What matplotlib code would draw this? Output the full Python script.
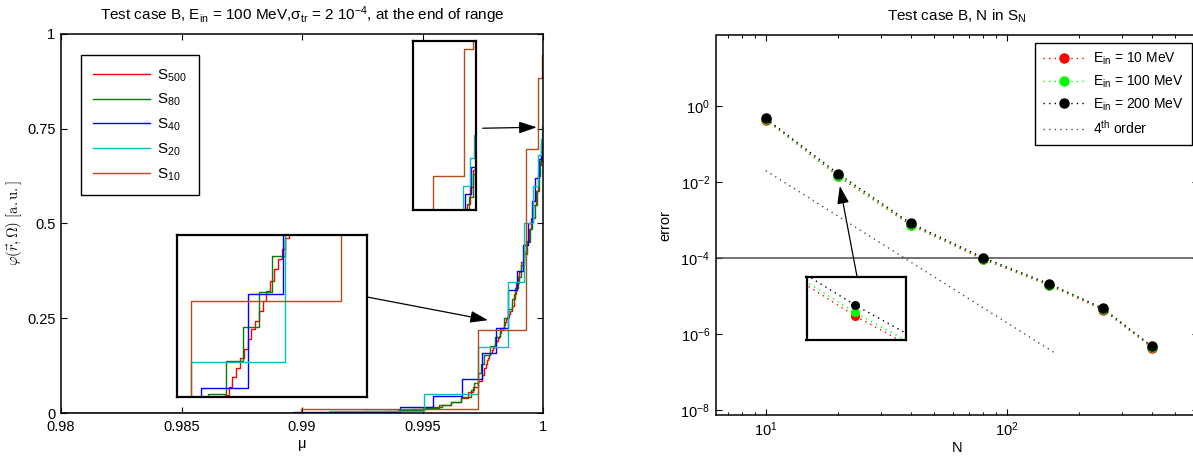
import matplotlib
matplotlib.use('Agg')
import matplotlib.pyplot as plt
from matplotlib.ticker import LogLocator, NullLocator, NullFormatter

plt.rcParams['font.family'] = ['Liberation Sans', 'DejaVu Sans']
plt.rcParams['font.size'] = 10
plt.rcParams['mathtext.fontset'] = 'custom'
plt.rcParams['mathtext.rm'] = 'Liberation Sans'
plt.rcParams['mathtext.it'] = 'Liberation Sans:italic'
plt.rcParams['mathtext.bf'] = 'Liberation Sans:bold'
plt.rcParams['mathtext.sf'] = 'Liberation Sans'

# ---- left panel: angular flux at the end of range (stairs, mu -> phi)
mu_500 = [0.9800, 0.9895, 0.9920, 0.9935, 0.9945, 0.9952, 0.9958, 0.9962,
          0.9966, 0.9969, 0.9971, 0.9973, 0.99745, 0.99755, 0.99762,
          0.99767, 0.99772, 0.99777, 0.99782, 0.99787, 0.99792, 0.99797,
          0.99802, 0.99807, 0.99812, 0.99817, 0.99822, 0.99827, 0.99832,
          0.99837, 0.99842, 0.99847, 0.99852, 0.99857, 0.99862, 0.9987,
          0.9988, 0.9989, 0.9990, 0.9991, 0.9992, 0.9993, 0.9994, 0.9995,
          0.9996, 0.9997, 0.9998, 0.99985, 0.9999, 0.99995, 1.0]
phi_500 = [0.000, 0.001, 0.003, 0.006, 0.010, 0.015, 0.022, 0.030,
           0.040, 0.055, 0.068, 0.085, 0.100, 0.118, 0.130,
           0.140, 0.146, 0.152, 0.158, 0.165, 0.171, 0.178,
           0.184, 0.191, 0.198, 0.204, 0.211, 0.218, 0.225,
           0.232, 0.240, 0.247, 0.254, 0.262, 0.270, 0.283,
           0.315, 0.343, 0.371, 0.398, 0.425, 0.455, 0.485, 0.515,
           0.550, 0.585, 0.630, 0.655, 0.680, 0.705, 0.730]

mu_80 = [0.9800, 0.9900, 0.9925, 0.9940, 0.9950, 0.9957, 0.9962, 0.9966,
         0.9970, 0.99715, 0.9973, 0.99742, 0.99755, 0.99779, 0.99801,
         0.99822, 0.9984, 0.99856, 0.9987, 0.99885, 0.99898, 0.9991,
         0.99922, 0.99934, 0.99945, 0.99955, 0.99965, 0.99974, 0.99982,
         0.99989, 0.99995, 1.0]
phi_80 = [0.000, 0.001, 0.004, 0.008, 0.014, 0.021, 0.030, 0.042,
          0.060, 0.080, 0.105, 0.130, 0.153, 0.176, 0.200,
          0.2245, 0.2496, 0.275, 0.300, 0.330, 0.360, 0.390,
          0.420, 0.452, 0.485, 0.515, 0.550, 0.585, 0.625,
          0.665, 0.700, 0.720]

mu_40 = [0.9800, 0.98967, 0.99407, 0.99545, 0.99663, 0.99745, 0.99807,
         0.99854, 0.99891, 0.99918, 0.99939, 0.99953, 0.99968, 0.99982,
         0.99992, 1.0]
phi_40 = [0.000, 0.003, 0.017, 0.045, 0.091, 0.157, 0.223,
          0.324, 0.374, 0.442, 0.500, 0.560, 0.620, 0.670,
          0.710, 0.745]

mu_20 = [0.9800, 0.99112, 0.99506, 0.99732, 0.99856, 0.99921, 0.99960,
         0.99979, 0.99990, 0.99997, 1.0]
phi_20 = [0.000, 0.006, 0.049, 0.175, 0.346, 0.500, 0.600,
          0.681, 0.723, 0.758, 0.758]

mu_10 = [0.9800, 0.98996, 0.99732, 0.99931, 0.99981, 0.99995, 1.0]
phi_10 = [0.000, 0.010, 0.218, 0.697, 0.885, 0.945, 0.945]

left_labels = ['S$_{500}$', 'S$_{80}$', 'S$_{40}$', 'S$_{20}$', 'S$_{10}$']
left_colors = ['#ff0000', '#007f00', '#0000ff', '#00bfbf', '#b34d1a']

# ---- right panel: error vs N in S_N
n_vals = [10, 20, 40, 80, 150, 250, 400]
err_10 = [0.44, 1.41e-2, 7.3e-4, 9.2e-5, 1.9e-5, 4.4e-6, 4.4e-7]
err_100 = [0.45, 1.48e-2, 7.6e-4, 9.6e-5, 2.0e-5, 4.6e-6, 4.6e-7]
err_200 = [0.47, 1.65e-2, 8.2e-4, 1.02e-4, 2.1e-5, 4.8e-6, 4.8e-7]
order_n = [10, 160]
order_err = [2.0e-2, 3.05e-7]
err_tol = 1e-4
right_labels = ['E$_{\\mathrm{in}}$ = 10 MeV', 'E$_{\\mathrm{in}}$ = 100 MeV',
                'E$_{\\mathrm{in}}$ = 200 MeV', '4$^{\\mathrm{th}}$ order']
right_colors = ['#ff0000', '#00ff00', '#000000']

W, H = 1193, 461
fig = plt.figure(figsize=(W / 100, H / 100), dpi=100)


def px_box(x0, y0, x1, y1):
    # image pixel box (top-left origin) -> figure fraction rect
    return [x0 / W, (H - y1) / H, (x1 - x0) / W, (y1 - y0) / H]


dots = (0, (1, 3))
left_series = list(zip([mu_500, mu_80, mu_40, mu_20, mu_10],
                       [phi_500, phi_80, phi_40, phi_20, phi_10],
                       left_colors, left_labels))


def draw_left(ax):
    for mu, phi, c, lab in left_series:
        ax.step(mu, phi, where='post', color=c, lw=1.0, label=lab)


def draw_right(ax, ms):
    for err, c, lab in zip([err_10, err_100, err_200], right_colors,
                           right_labels):
        ax.plot(n_vals, err, linestyle=dots, lw=1.0, color=c, marker='o',
                ms=ms, mfc=c, mec=c, label=lab)


def inset_box(ax):
    ax.set_xticks([])
    ax.set_yticks([])
    for s in ax.spines.values():
        s.set_linewidth(1.6)


# left main axes
ax1 = fig.add_axes(px_box(61, 34, 543, 413))
draw_left(ax1)
ax1.set_xlim(0.98, 1.0)
ax1.set_ylim(0, 1)
ax1.set_xticks([0.98, 0.985, 0.99, 0.995, 1.0])
ax1.set_xticklabels(['0.98', '0.985', '0.99', '0.995', '1'])
ax1.set_yticks([0, 0.25, 0.5, 0.75, 1.0])
ax1.set_yticklabels(['0', '0.25', '0.5', '0.75', '1'])
ax1.tick_params(direction='in', length=4, width=0.8, top=True, right=True,
                pad=4, labelsize=10.5)
ax1.tick_params(axis='x', pad=5)
for s in ax1.spines.values():
    s.set_linewidth(1.1)
ax1.set_xlabel('\u03bc', labelpad=2, fontsize=10.5)
ax1.set_ylabel(r'$\varphi(\vec{r},\Omega)\ [\mathrm{a.u.}]$',
               math_fontfamily='cm', fontsize=10.5)
ax1.yaxis.set_label_coords(-0.077, 0.5)
ax1.set_title('Test case B, E$_{\\mathrm{in}}$ = 100 MeV,\u03c3$_{\\mathrm{tr}}$'
              ' = 2 10$^{-4}$, at the end of range', fontsize=11, pad=10)
leg1 = ax1.legend(loc='upper left', bbox_to_anchor=(81 / W, (H - 55) / H),
                  bbox_transform=fig.transFigure, borderaxespad=0,
                  fontsize=11, handlelength=3.7, handletextpad=0.45,
                  labelspacing=0.55, borderpad=0.8, fancybox=False,
                  framealpha=1, edgecolor='black')
leg1.get_frame().set_linewidth(1.0)

# left insets
in1 = fig.add_axes(px_box(176.7, 235, 366.7, 396.7))
draw_left(in1)
in1.set_xlim(0.99713, 0.99965)
in1.set_ylim(0.151, 0.264)
inset_box(in1)

in2 = fig.add_axes(px_box(413.3, 40.7, 476, 210))
draw_left(in2)
in2.set_xlim(0.999, 1.0)
in2.set_ylim(0.646, 0.898)
inset_box(in2)

arrow = dict(arrowstyle='-|>,head_length=0.9,head_width=0.3', color='black',
             lw=0.9, shrinkA=0, shrinkB=0, mutation_scale=12)
ax1.annotate('', xy=(0.99772, 0.245), xycoords='data',
             xytext=(1.0, 0.617), textcoords=in1.transAxes, arrowprops=arrow)
ax1.annotate('', xy=(0.99974, 0.754), xycoords='data',
             xytext=(1.107, 0.483), textcoords=in2.transAxes, arrowprops=arrow)

# right main axes
ax2 = fig.add_axes(px_box(715.7, 35.5, 1197.7, 415))
ax2.set_xscale('log')
ax2.set_yscale('log')
ax2.axhline(err_tol, color='0.3', lw=1.1)
draw_right(ax2, 6.5)
ax2.plot(order_n, order_err, linestyle=dots, lw=1.0, color='0.3',
         label=right_labels[3])
ax2.set_xlim(6.2, 620)
ax2.set_ylim(10 ** -8.13, 10 ** 1.855)
ax2.set_yticks([1e-8, 1e-6, 1e-4, 1e-2, 1])
ax2.yaxis.set_minor_locator(NullLocator())
ax2.set_xticks([10, 100])
ax2.xaxis.set_minor_locator(LogLocator(base=10, subs=range(2, 10)))
ax2.xaxis.set_minor_formatter(NullFormatter())
ax2.tick_params(which='both', direction='in', top=True, right=True, pad=4,
                labelsize=10.5)
ax2.tick_params(which='major', length=4, width=0.8)
ax2.tick_params(which='minor', length=2.5, width=0.7)
for s in ax2.spines.values():
    s.set_linewidth(1.1)
ax2.set_xlabel('N', labelpad=1, fontsize=10.5)
ax2.set_ylabel('error', fontsize=10.5)
ax2.yaxis.set_label_coords(-0.089, 0.5)
ax2.set_title('Test case B, N in S$_{\\mathrm{N}}$', fontsize=11, pad=11)
handles, labels = ax2.get_legend_handles_labels()
leg2 = ax2.legend(handles[-4:], labels[-4:], loc='upper left',
                  bbox_to_anchor=(1035 / W, (H - 42.7) / H),
                  bbox_transform=fig.transFigure, borderaxespad=0,
                  handlelength=3.0, handletextpad=0.55, labelspacing=0.45,
                  borderpad=0.6, fancybox=False, framealpha=1,
                  edgecolor='black', markerscale=1.0)
leg2.get_frame().set_linewidth(1.0)

# right inset around N = 20
in3 = fig.add_axes(px_box(806.5, 276.7, 906, 340.3))
in3.set_xscale('log')
in3.set_yscale('log')
draw_right(in3, 5.5)
in3.set_xlim(10 ** 1.2623, 10 ** 1.3423)
in3.set_ylim(10 ** -2.0055, 10 ** -1.6055)
in3.xaxis.set_minor_locator(NullLocator())
in3.yaxis.set_minor_locator(NullLocator())
inset_box(in3)

ax2.annotate('', xy=(20.3, 7.9e-3), xycoords='data',
             xytext=(0.508, 1.0), textcoords=in3.transAxes, arrowprops=arrow)

fig.savefig('out.png', dpi=100)
